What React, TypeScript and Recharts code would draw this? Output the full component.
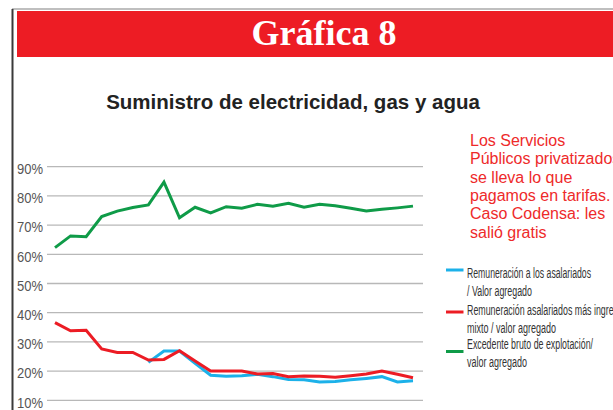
import React from 'react';
import { LineChart, Line, XAxis, YAxis, CartesianGrid } from 'recharts';

const years = ['1990','1991','1992','1993','1994','1995','1996','1997','1998','1999','2000','2001','2002','2003','2004','2005','2006','2007','2008','2009','2010','2011','2012','2013'];
const remAsalariados: (number | null)[] = [null, null, null, null, null, null, 23.0, 26.9, 26.9, 22.7, 18.6, 18.2, 18.4, 18.9, 18.1, 17.1, 17.0, 16.3, 16.4, 17.0, 17.5, 18.1, 16.3, 16.7];
const remMixto = [36.6, 33.8, 34.0, 27.6, 26.4, 26.4, 23.8, 24.0, 27.0, 23.5, 20.0, 20.0, 20.0, 19.0, 19.2, 18.1, 18.3, 18.2, 17.9, 18.4, 19.0, 20.0, 18.9, 17.7];
const excedente = [62.3, 66.3, 66.0, 72.9, 74.8, 76.0, 76.9, 84.7, 72.5, 76.1, 74.2, 76.3, 75.8, 77.1, 76.5, 77.5, 76.1, 77.1, 76.6, 75.8, 74.8, 75.4, 75.9, 76.5];
const yTicks = [10, 20, 30, 40, 50, 60, 70, 80, 90];

const seriesKeys = ['rem', 'mixto', 'exc'];
const seriesColors = ['#1cb1e9', '#ec1c24', '#0f9b48'];
const legendLines = [
  ['Remuneración a los asalariados', '/ Valor agregado'],
  ['Remuneración asalariados más ingreso', 'mixto / valor agregado'],
  ['Excedente bruto de explotación/', 'valor agregado'],
];
const chartTitle = 'Gráfica 8';
const chartSubtitle = 'Suministro de electricidad, gas y agua';
const noteLines = ['Los Servicios', 'Públicos privatizados', 'se lleva lo que', 'pagamos en tarifas.', 'Caso Codensa: les', 'salió gratis'];

const data = years.map((y, i) => ({
  year: y,
  rem: remAsalariados[i],
  mixto: remMixto[i],
  exc: excedente[i],
}));

const NARROW = '"Liberation Sans Narrow", "Liberation Sans", Arial, sans-serif';
const SANS = '"Liberation Sans", Arial, sans-serif';

const YTick = (props: any) => {
  const { x, y, payload } = props;
  const label = `${payload.value}%`;
  return (
    <text x={x} y={y + 2} dy="0.355em" textAnchor="end" fontFamily={NARROW} fontSize={15} fill="#555" textLength={26} lengthAdjust="spacingAndGlyphs">
      {label}
    </text>
  );
};

export default function App() {
  const legendSampleY = [270, 312, 351.5];
  const legendTextY = [277.5, 295.5, 314.5, 332.5, 349, 367];
  const legendWidths = [124, 65, 156, 89, 126, 60];
  return (
    <div style={{ position: 'fixed', left: 0, top: 0, width: 613, height: 410, overflow: 'hidden', background: '#fff' }}>
      <div style={{ position: 'absolute', left: 0, top: 0 }}>
        <LineChart width={613} height={440} data={data} margin={{ top: 166.7, right: 190, bottom: 10.5, left: 0 }}>
          <CartesianGrid vertical={false} stroke="#b8b8b8" strokeWidth={1.3} />
          <XAxis dataKey="year" hide padding={{ left: 8, right: 10 }} />
          <YAxis domain={[0, 90]} ticks={yTicks} width={47} axisLine={false} tickLine={false} tickSize={0} tickMargin={4} tick={<YTick />} interval={0} />
          {seriesKeys.map((k, i) => (
            <Line key={k} type="linear" dataKey={k} stroke={seriesColors[i]} strokeWidth={3} dot={false} isAnimationActive={false} connectNulls={false} />
          ))}
        </LineChart>
      </div>
      <svg width={613} height={410} style={{ position: 'absolute', left: 0, top: 0, pointerEvents: 'none' }}>
        <line x1={12} y1={9} x2={613} y2={9} stroke="#aaa" strokeWidth={1.5} />
        <line x1={12.5} y1={9} x2={12.5} y2={410} stroke="#3a3a3a" strokeWidth={2} />
        <rect x={17} y={11} width={596} height={46} fill="#ed1c24" />
        <text x={324} y={45} textAnchor="middle" fontFamily='"Liberation Serif", "Times New Roman", serif' fontWeight="bold" fontSize={36} fill="#fff">
          {chartTitle}
        </text>
        <text x={293} y={109} textAnchor="middle" fontFamily={SANS} fontWeight="bold" fontSize={20.5} fill="#222">
          {chartSubtitle}
        </text>
        {noteLines.map((t, i) => (
          <text key={i} x={470} y={146 + i * 18.3} fontFamily={SANS} fontSize={16} fill="#ee2a2a">
            {t}
          </text>
        ))}
        {seriesColors.map((c, i) => (
          <line key={i} x1={446} x2={463.5} y1={legendSampleY[i]} y2={legendSampleY[i]} stroke={c} strokeWidth={3} />
        ))}
        {legendLines.flat().map((t, i) => (
          <text key={i} x={467} y={legendTextY[i]} fontFamily={NARROW} fontSize={14} fill="#333" textLength={legendWidths[i]} lengthAdjust="spacingAndGlyphs">
            {t}
          </text>
        ))}
      </svg>
    </div>
  );
}
